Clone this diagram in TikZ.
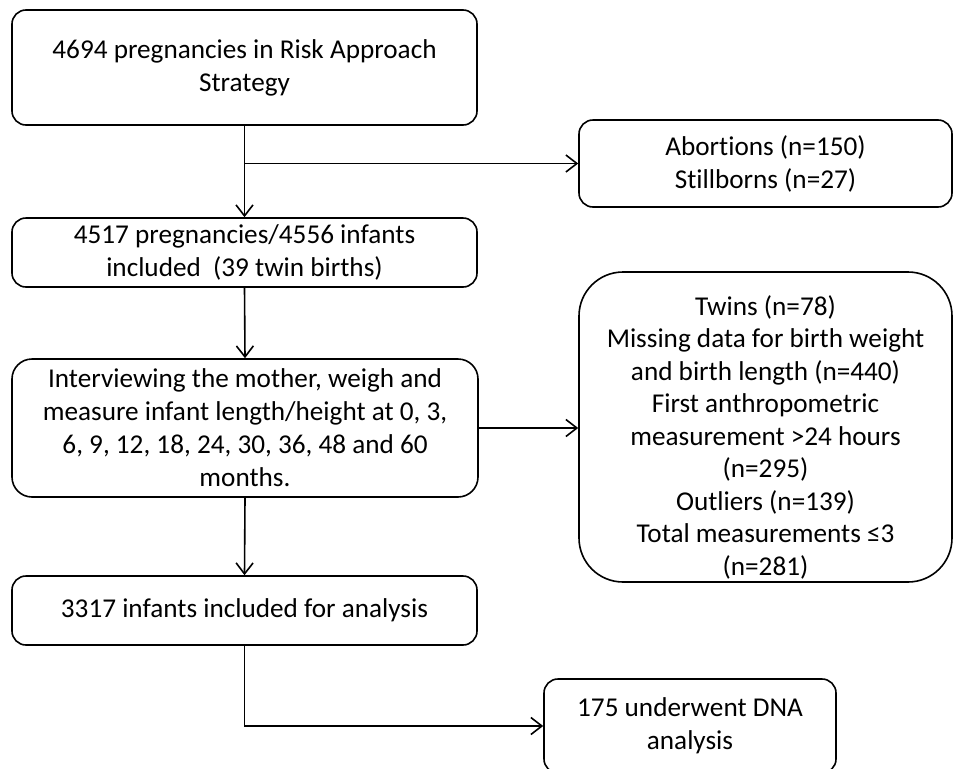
\documentclass[tikz,border=0pt]{standalone}
\usepackage{fontspec}
\setmainfont{Carlito}[Ligatures=NoCommon]
\usetikzlibrary{arrows.meta}
\begin{document}
\begin{tikzpicture}[x=1pt,y=-1pt,
  box/.style={draw, line width=1.6pt, rounded corners=14pt, align=center,
    inner sep=0pt, font=\fontsize{27.2}{33}\selectfont},
  conn/.style={line width=1.6pt, -{Straight Barb[length=11pt,width=17pt]}}]
\useasboundingbox (0,0) rectangle (954,769);
\clip (0,0) rectangle (954,769);
\fill[white] (0,0) rectangle (954,769);

\node[box, minimum width=465pt, minimum height=115pt] (b1) at (244.5,67.5)
  {4694 pregnancies in Risk Approach\\Strategy};
\node[box, minimum width=373pt, minimum height=87pt] (ab) at (765.5,163.5)
  {Abortions (n=150)\\Stillborns (n=27)};
\node[box, minimum width=465pt, minimum height=69pt] (b3) at (244.5,252.5)
  {4517 pregnancies/4556 infants\\included\ \ (39 twin births)};
\node[box, rounded corners=20pt, minimum width=466pt, minimum height=138pt] (b4) at (245,428)
  {Interviewing the mother, weigh and\\measure infant length/height at 0, 3,\\6, 9, 12, 18, 24, 30, 36, 48 and 60\\months.};
\node[box, rounded corners=44pt, minimum width=373pt, minimum height=310pt,
  font=\fontsize{27.2}{32.5}\selectfont] (rb) at (765.5,427)
  {\rule{0pt}{40pt}Twins (n=78)\\Missing data for birth weight\\and birth length (n=440)\\First anthropometric\\measurement >24 hours\\(n=295)\\Outliers (n=139)\\Total measurements ≤3\\(n=281)};
\node[box, minimum width=465pt, minimum height=69pt] (b5) at (244.5,610.5)
  {3317 infants included for analysis};
\node[box, minimum width=292pt, minimum height=94pt] (b6) at (690,726)
  {175 underwent DNA\\analysis};

\draw[conn] (b1.south) -- (b3.north);
\draw[conn] (b1.south |- ab.west) -- (ab.west);
\draw[conn] (b3.south) -- (b4.north);
\draw[conn] (b4.east) -- (b4.east -| rb.west);
\draw[conn] (b4.south) -- (b5.north);
\draw[conn] (b5.south) |- (b6.west);
\end{tikzpicture}
\end{document}
